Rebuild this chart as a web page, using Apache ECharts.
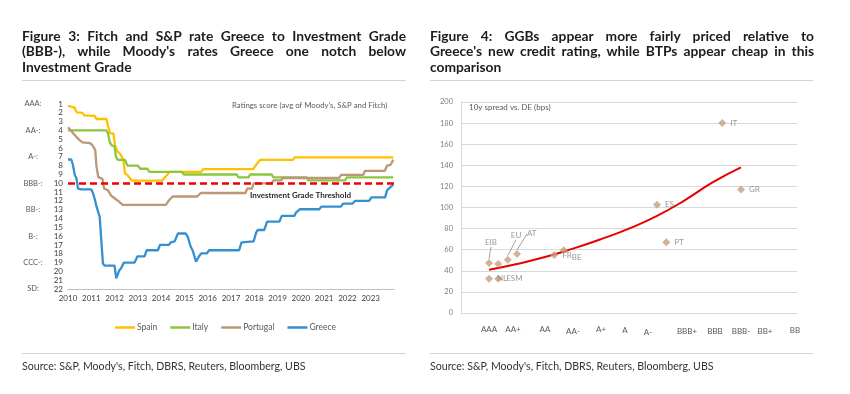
<!DOCTYPE html>
<html><head><meta charset="utf-8">
<script src="https://cdn.jsdelivr.net/npm/echarts@6/dist/echarts.min.js"></script>
<style>
html,body{margin:0;padding:0;background:#fff;}
#wrap{position:relative;width:850px;height:394px;overflow:hidden;font-family:Lato,"Open Sans",sans-serif;}
#chart{position:absolute;left:0;top:0;width:850px;height:394px;}
.ttl{position:absolute;top:28px;width:384px;font-weight:bold;font-size:13.8px;line-height:15.3px;color:#1c1c1c;}
.ln{white-space:nowrap;}
.sep{position:absolute;height:1px;background:#d4d4d4;}
.src{position:absolute;top:360px;font-size:10.6px;color:#333;white-space:nowrap;}
</style></head>
<body><div id="wrap">
<div id="chart"></div>
<div class="ttl" style="left:22px"><div class="ln j"><span>Figure 3: Fitch and S&amp;P rate Greece to Investment Grade</span></div><div class="ln j"><span>(BBB-), while Moody's rates Greece one notch below</span></div><div class="ln"><span>Investment Grade</span></div></div>
<div class="ttl" style="left:430px"><div class="ln j"><span>Figure 4: GGBs appear more fairly priced relative to</span></div><div class="ln j"><span>Greece's new credit rating, while BTPs appear cheap in this</span></div><div class="ln"><span>comparison</span></div></div>
<div class="sep" style="left:22px;width:384px;top:80px"></div>
<div class="sep" style="left:430px;width:383px;top:80px"></div>
<div class="sep" style="left:22px;width:384px;top:353px"></div>
<div class="sep" style="left:430px;width:383px;top:353px"></div>
<div class="src" style="left:22px">Source: S&amp;P, Moody's, Fitch, DBRS, Reuters, Bloomberg, UBS</div>
<div class="src" style="left:430px">Source: S&amp;P, Moody's, Fitch, DBRS, Reuters, Bloomberg, UBS</div>
</div>
<script>
// ---------- Figure 3 data: ratings score (1 = AAA ... 22 = SD), by decimal year ----------
var spain = [[2010.00,1.2],[2010.08,1.35],[2010.28,1.4],[2010.33,1.7],[2010.38,1.95],[2010.62,2.0],[2010.70,2.3],[2011.15,2.35],[2011.22,2.7],[2011.65,2.7],[2011.72,3.5],[2011.80,4.3],[2011.95,4.35],[2012.02,5.7],[2012.10,6.3],[2012.25,6.7],[2012.38,7.4],[2012.45,8.9],[2012.55,9.05],[2012.62,9.3],[2012.75,9.7],[2014.05,9.7],[2014.15,9.35],[2014.28,9.0],[2014.35,8.7],[2015.72,8.7],[2015.80,8.4],[2017.95,8.4],[2018.05,8.0],[2018.25,7.35],[2019.65,7.35],[2019.75,7.05],[2023.97,7.05]];
var italy = [[2010.00,4.0],[2011.65,4.0],[2011.72,4.35],[2011.80,5.4],[2011.88,5.7],[2012.00,5.8],[2012.06,7.0],[2012.14,7.35],[2012.45,7.35],[2012.55,8.0],[2013.00,8.0],[2013.10,8.35],[2013.40,8.35],[2013.50,8.7],[2014.88,8.7],[2014.98,9.0],[2017.25,9.0],[2017.32,9.33],[2017.75,9.33],[2017.82,9.0],[2018.75,9.0],[2018.82,9.33],[2020.25,9.33],[2020.32,9.67],[2021.90,9.67],[2021.97,9.33],[2023.97,9.33]];
var portugal = [[2010.00,3.65],[2010.12,4.0],[2010.25,4.4],[2010.35,4.7],[2010.50,5.1],[2010.62,5.35],[2010.95,5.45],[2011.05,5.7],[2011.17,6.2],[2011.22,8.0],[2011.30,9.3],[2011.48,9.5],[2011.55,10.6],[2011.72,10.8],[2011.85,11.4],[2012.00,11.7],[2012.15,12.0],[2012.35,12.45],[2014.20,12.45],[2014.35,11.9],[2014.50,11.5],[2015.55,11.5],[2015.70,11.1],[2017.62,11.1],[2017.70,10.6],[2017.90,10.6],[2017.97,10.0],[2018.75,10.0],[2018.82,9.67],[2019.15,9.67],[2019.22,9.4],[2021.65,9.4],[2021.72,9.05],[2022.68,9.05],[2022.75,8.6],[2023.60,8.6],[2023.70,8.0],[2023.85,7.9],[2023.97,7.35]];
var greece = [[2010.00,7.3],[2010.14,7.3],[2010.21,7.9],[2010.29,9.05],[2010.36,9.4],[2010.43,10.6],[2010.57,10.7],[2011.00,10.7],[2011.07,11.1],[2011.14,11.7],[2011.22,12.6],[2011.27,12.8],[2011.36,13.8],[2011.50,19.1],[2011.57,19.35],[2012.00,19.35],[2012.07,20.8],[2012.13,21.0],[2012.20,19.9],[2012.28,19.65],[2012.40,19.0],[2012.86,19.0],[2012.98,18.3],[2013.29,18.3],[2013.38,17.6],[2013.86,17.6],[2013.95,17.0],[2014.33,17.0],[2014.42,16.7],[2014.58,16.6],[2014.72,15.7],[2015.05,15.7],[2015.14,16.05],[2015.27,17.2],[2015.35,17.6],[2015.43,17.7],[2015.50,18.9],[2015.60,18.4],[2015.72,17.95],[2015.97,17.95],[2016.05,17.6],[2017.35,17.6],[2017.45,16.7],[2017.97,16.6],[2018.08,15.6],[2018.15,15.3],[2018.43,15.3],[2018.55,14.35],[2019.08,14.35],[2019.18,13.7],[2019.72,13.7],[2019.80,13.3],[2019.95,12.95],[2020.79,12.95],[2020.88,12.65],[2021.72,12.65],[2021.82,12.3],[2022.22,12.3],[2022.32,12.0],[2022.93,12.0],[2023.03,11.6],[2023.62,11.6],[2023.70,10.8],[2023.82,10.5],[2023.97,10.15]];
var igThreshold = 10;
var ratingTickValues = [1,4,7,10,13,16,19,22];
var ratingTickLabels = ['AAA:','AA-:','A-:','BBB-:','BB-:','B-:','CCC-:','SD:'];

// ---------- Figure 4 data ----------
var ratingScale = ['AAA','AA+','AA','AA-','A+','A','A-','BBB+','BBB','BBB-','BB+','BB'];
var issuers      = ['EIB','','NL','ESM','EU','AT','FR','BE','ES','PT','IT','GR'];
var issuerScore  = [1.0, 1.33, 1.0, 1.33, 1.67, 2.0, 3.33, 3.67, 7.0, 7.33, 9.33, 10.0];
var issuerSpread = [47.5, 46.5, 32.5, 32.5, 50.5, 56, 55, 59.5, 102.5, 67, 180, 117];
var trendScore  = [1, 2, 3, 4, 5, 6, 7, 8, 9, 10];
var trendSpread = [41, 46.5, 53, 61, 70, 80, 92, 107, 124, 138];

// ---------- styles ----------
var FONT = 'Lato, "Open Sans", sans-serif';
var labelShift = {EIB:[-12,-20], EU:[-5,-24], AT:[2,-20], BE:[0,7]};
var withLeader = {EIB:1, EU:1, AT:1};
var tickShift = {'AA+':[-4,0],'AA-':[0,2],'A':[-4,1],'A-':[-9,3],'BBB+':[2,2],'BBB':[2,2],'BBB-':[0,2],'BB+':[-4,2],'BB':[-2,1]};
var rich = {};
ratingScale.forEach(function(r,i){
  var s = tickShift[r] || [0,0];
  rich['r'+i] = {fontSize:8, color:'#595959', fontFamily:FONT,
    padding:[s[1], s[0]<0 ? -2*s[0] : 0, 0, s[0]>0 ? 2*s[0] : 0]};
});

function lineSeries(name, data, color){
  return {name:name, type:'line', xAxisIndex:0, yAxisIndex:0, data:data, symbol:'none', showSymbol:false,
    lineStyle:{color:color, width:2.3}, itemStyle:{color:color}, z:3, silent:true};
}
var sG = lineSeries('Greece', greece, '#3590CF');
sG.markLine = {silent:true, symbol:['none','none'], label:{show:false}, animation:false,
  lineStyle:{color:'#F00000', type:[7,4], width:2.5}, data:[{yAxis: igThreshold}]};

var chart = echarts.init(document.getElementById('chart'), null, {renderer:'canvas'});
chart.setOption({
  animation:false,
  backgroundColor:'transparent',
  textStyle:{fontFamily:FONT},
  grid:[
    {left:68, top:104, width:326, height:185, containLabel:false, outerBoundsMode:'none'},
    {left:461, top:102, width:336, height:211, containLabel:false, outerBoundsMode:'none'}
  ],
  legend:{show:true, data:['Spain','Italy','Portugal','Greece'], left:115, top:323, padding:0,
    icon:'rect', itemWidth:20, itemHeight:2.5, itemGap:13, selectedMode:false,
    textStyle:{fontSize:8.5, color:'#595959', fontFamily:FONT, padding:[0,0,0,-3]}},
  xAxis:[
    {type:'value', gridIndex:0, min:2010, max:2024, interval:1,
      axisLine:{show:true, lineStyle:{color:'#bfbfbf', width:1}}, axisTick:{show:false}, splitLine:{show:false},
      axisLabel:{fontSize:8, color:'#404040', margin:5, fontFamily:FONT,
        formatter:function(v){ return v < 2024 ? String(v) : ''; }}},
    {type:'value', gridIndex:1, min:0, max:12, interval:1,
      axisLine:{show:false}, axisTick:{show:false}, splitLine:{show:false},
      axisLabel:{margin:12, rich:rich,
        formatter:function(v){ return (v>=1 && v<=12) ? '{r'+(v-1)+'|'+ratingScale[v-1]+'}' : ''; }}}
  ],
  yAxis:[
    {type:'value', gridIndex:0, inverse:true, min:1, max:22, interval:1,
      axisLine:{show:false}, axisTick:{show:false}, splitLine:{show:false},
      axisLabel:{fontSize:8, color:'#404040', margin:5, fontFamily:FONT}},
    {type:'value', gridIndex:0, inverse:true, min:1, max:22, interval:1, position:'left',
      axisLine:{show:false}, axisTick:{show:false}, splitLine:{show:false},
      axisLabel:{fontSize:7.5, color:'#595959', margin:35, align:'center', fontFamily:FONT,
        formatter:function(v){ var k = ratingTickValues.indexOf(v); return k >= 0 ? ratingTickLabels[k] : ''; }}},
    {type:'value', gridIndex:1, min:0, max:200, interval:20,
      axisLine:{show:true, lineStyle:{color:'#d9d9d9', width:1}}, axisTick:{show:false},
      splitLine:{show:true, lineStyle:{color:'#d9d9d9', width:1}},
      axisLabel:{fontSize:7.5, color:'#7f7f7f', margin:8, fontFamily:FONT}}
  ],
  graphic:[
    {type:'text', left:232, top:101, silent:true,
      style:{text:"Ratings score (avg of Moody's, S&P and Fitch)", fontSize:7.8, fill:'#595959', fontFamily:FONT}},
    {type:'text', left:250, top:191, silent:true,
      style:{text:'Investment Grade Threshold', fontSize:8, fontWeight:'bold', fill:'#2a2a2a', fontFamily:FONT}},
    {type:'text', left:469, top:103, silent:true,
      style:{text:'10y spread vs. DE (bps)', fontSize:8, fill:'#595959', fontFamily:FONT}}
  ],
  series:[
    lineSeries('Spain', spain, '#FFC000'),
    lineSeries('Italy', italy, '#8CC63E'),
    lineSeries('Portugal', portugal, '#BA9878'),
    sG,
    {name:'Trend', type:'line', xAxisIndex:1, yAxisIndex:2, smooth:true, symbol:'none', silent:true,
      data:trendScore.map(function(x,i){ return [x, trendSpread[i]]; }),
      lineStyle:{color:'#E60000', width:2}, z:2},
    {name:'Issuers', type:'scatter', xAxisIndex:1, yAxisIndex:2, symbol:'diamond', symbolSize:8, silent:true,
      itemStyle:{color:'#C4A07C'}, z:3,
      data:issuers.map(function(n,i){
        var d = {name:n, value:[issuerScore[i], issuerSpread[i]]};
        if (withLeader[n]) d.labelLine = {show:true, smooth:false, length2:0, lineStyle:{color:'#8c8c8c', width:0.8}};
        return d;
      }),
      label:{show:true, position:'right', distance:4, formatter:'{b}', fontSize:8, color:'#7f7f7f', fontFamily:FONT},
      labelLayout:function(p){ var s = labelShift[issuers[p.dataIndex]]; return s ? {dx:s[0], dy:s[1]} : {}; }
    }
  ]
});

function justify(){
  document.querySelectorAll('.ln').forEach(function(d){
    var s = d.querySelector('span');
    s.style.letterSpacing = ''; s.style.wordSpacing = '';
    var target = d.parentNode.clientWidth;
    var txt = s.textContent;
    var w = s.getBoundingClientRect().width;
    if (w > target) { s.style.letterSpacing = ((target - w) / txt.length) + 'px'; w = s.getBoundingClientRect().width; }
    if (d.classList.contains('j')) {
      var n = (txt.match(/ /g) || []).length;
      if (n) s.style.wordSpacing = ((target - w) / n) + 'px';
    }
  });
}
justify();
if (document.fonts && document.fonts.ready) document.fonts.ready.then(justify);
</script>
</body></html>
